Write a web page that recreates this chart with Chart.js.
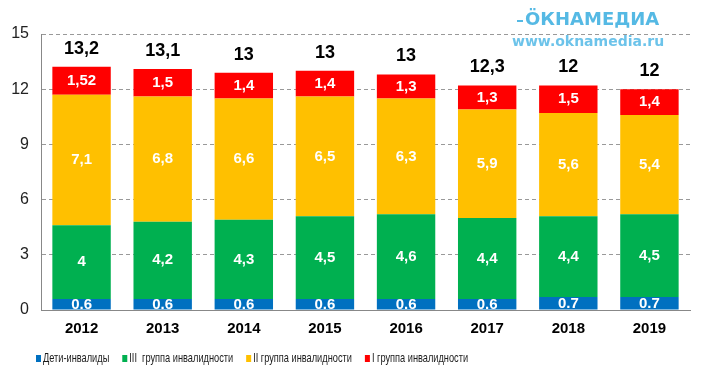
<!DOCTYPE html>
<html><head><meta charset="utf-8">
<script src="https://cdn.jsdelivr.net/npm/chart.js@4/dist/chart.umd.min.js"></script>
<style>html,body{margin:0;padding:0;background:#fff}#wrap{width:703px;height:378px;position:relative}</style>
</head><body><div id="wrap"><canvas id="c" width="703" height="378"></canvas></div>
<script>
const categories = ['2012','2013','2014','2015','2016','2017','2018','2019'];
const children = [0.6,0.6,0.6,0.6,0.6,0.6,0.7,0.7];
const group3 = [4,4.2,4.3,4.5,4.6,4.4,4.4,4.5];
const group2 = [7.1,6.8,6.6,6.5,6.3,5.9,5.6,5.4];
const group1 = [1.52,1.5,1.4,1.4,1.3,1.3,1.5,1.4];
const totals = ['13,2','13,1','13','13','13','12,3','12','12'];
const yTicks = [0,3,6,9,12,15];
const seriesNames = ['Дети-инвалиды','III  группа инвалидности','II группа инвалидности','I группа инвалидности'];

const fmtComma = v => String(v).replace('.', ',');
const fmtDot = v => String(v);
const colors = ['#0070C0','#00B050','#FFC000','#FF0000'];
const dataArr = [children, group3, group2, group1];

const labelPlugin = {
  id: 'labels',
  afterDatasetsDraw(chart) {
    const ctx = chart.ctx;
    ctx.save();
    ctx.textAlign = 'center';
    ctx.textBaseline = 'middle';
    chart.data.datasets.forEach((ds, di) => {
      const meta = chart.getDatasetMeta(di);
      meta.data.forEach((el, i) => {
        const v = ds.data[i];
        const cy = (el.y + el.base) / 2;
        ctx.fillStyle = '#ffffff';
        ctx.font = 'bold 15px "Liberation Sans", Arial, sans-serif';
        const t = di === 0 ? fmtDot(v) : fmtComma(v);
        ctx.fillText(t, el.x, di === 0 ? cy + 1 : cy);
      });
    });
    const last = chart.getDatasetMeta(chart.data.datasets.length - 1);
    ctx.fillStyle = '#000';
    ctx.font = 'bold 18px "Liberation Sans", Arial, sans-serif';
    last.data.forEach((el, i) => {
      ctx.fillText(totals[i], el.x, el.y - 18);
    });
    // custom legend (condensed text)
    ctx.textAlign = 'left';
    ctx.font = '13px "Liberation Sans", Arial, sans-serif';
    const sx = 0.71;
    let x = 36;
    const ly = 358;
    chart.data.datasets.forEach((ds, di) => {
      ctx.fillStyle = colors[di];
      ctx.fillRect(x, ly - 3, 5, 7);
      ctx.fillStyle = '#1a1a1a';
      ctx.save();
      ctx.translate(x + 7, ly);
      ctx.scale(sx, 1);
      ctx.fillText(ds.label, 0, 0);
      ctx.restore();
      x += 7 + ctx.measureText(ds.label).width * sx + 13;
    });
    // logo
    ctx.fillStyle = '#55b9e4';
    ctx.font = '600 18px "DejaVu Sans", sans-serif';
    ctx.fillText('ÖКНАМЕДИА', 525, 20);
    ctx.fillRect(517, 20, 6, 2);
    ctx.font = 'bold 14px "DejaVu Sans", sans-serif';
    ctx.fillStyle = '#6cc3ea';
    ctx.fillText('www.oknamedia.ru', 512, 42);
    ctx.restore();
  }
};

new Chart(document.getElementById('c'), {
  type: 'bar',
  data: {
    labels: categories,
    datasets: dataArr.map((d, i) => ({
      label: seriesNames[i],
      data: d,
      backgroundColor: colors[i],
      borderWidth: 0,
      categoryPercentage: 0.72,
      barPercentage: 1.0
    }))
  },
  options: {
    responsive: false,
    animation: false,
    devicePixelRatio: 1,
    layout: { padding: { top: 34, right: 13, left: 0, bottom: 38 } },
    plugins: {
      tooltip: { enabled: false },
      legend: { display: false }
    },
    scales: {
      x: {
        stacked: true,
        afterFit(s) { s.height = 30; },
        grid: { display: false, drawTicks: false },
        border: { color: '#888', width: 1 },
        ticks: { color: '#000', padding: 10, font: { family: '"Liberation Sans", Arial, sans-serif', size: 15, weight: 'bold' } }
      },
      y: {
        stacked: true,
        min: 0, max: 15,
        afterFit(s) { s.width = 41; },
        afterBuildTicks(s) { s.ticks = yTicks.map(v => ({ value: v })); },
        grid: {
          color: ctx => ctx.tick && ctx.tick.value === 0 ? 'rgba(0,0,0,0)' : '#999',
          drawTicks: false
        },
        border: { color: '#888', width: 1, dash: [4, 3] },
        ticks: { color: '#222', padding: 12, font: { family: '"Liberation Sans", Arial, sans-serif', size: 16 } }
      }
    }
  },
  plugins: [labelPlugin]
});
</script>
</body></html>
